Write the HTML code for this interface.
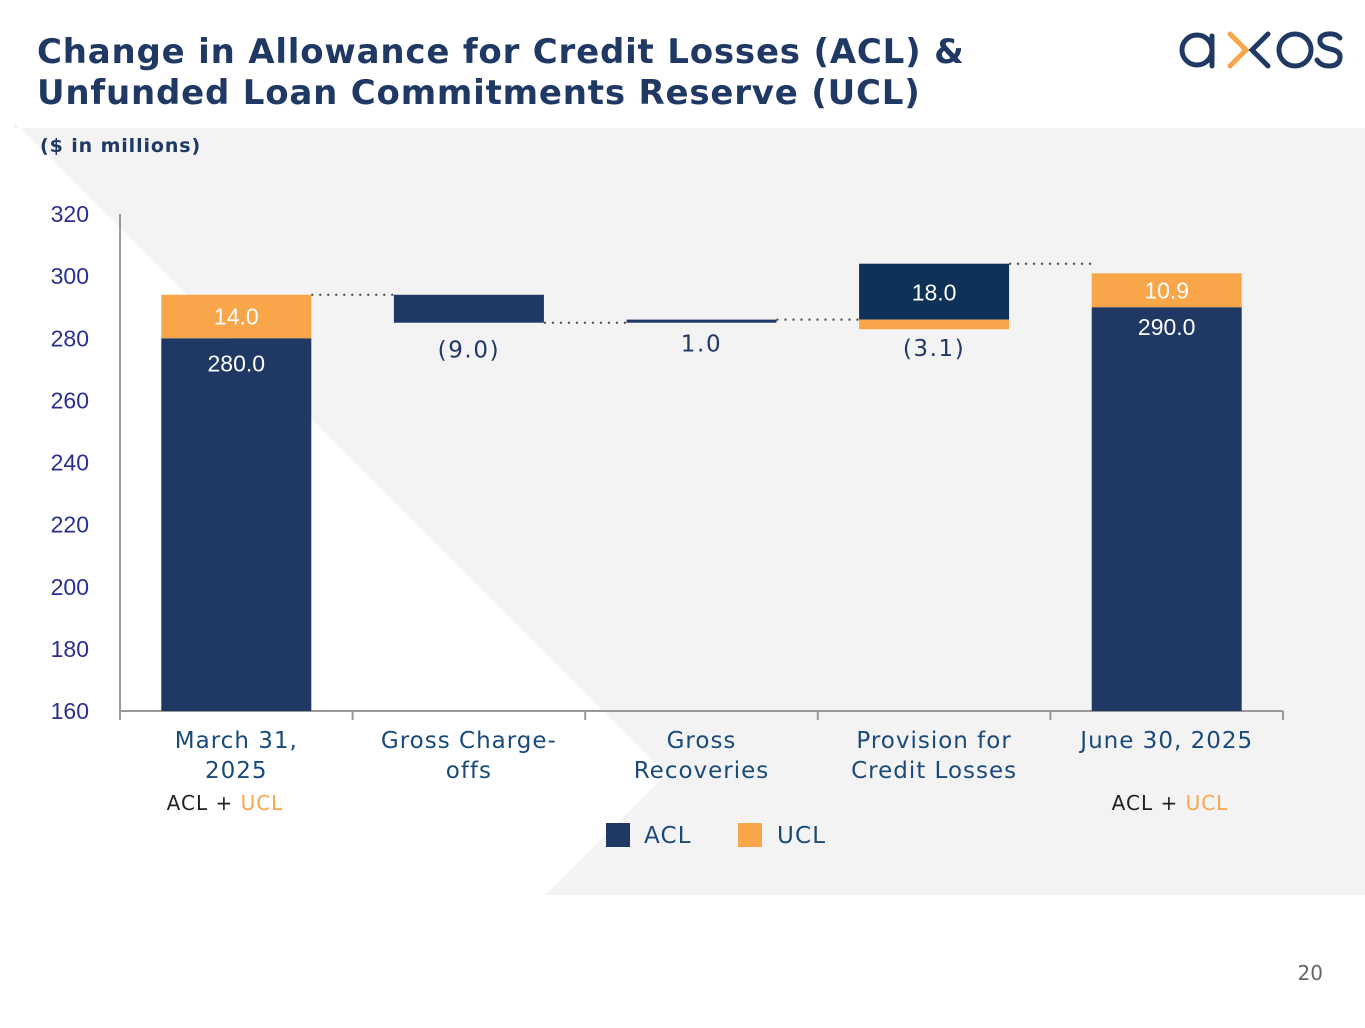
<!DOCTYPE html>
<html><head><meta charset="utf-8"><style>
body{margin:0;width:1365px;height:1024px;background:#fff;overflow:hidden;font-family:"DejaVu Sans",sans-serif}
</style></head><body>
<svg width="1365" height="1024" xmlns="http://www.w3.org/2000/svg">
<polygon points="14,128 1365,128 1365,895 545,895 666,774 14,122" fill="#f3f3f3"/>
<text x="37" y="63" font-family="DejaVu Sans" font-weight="bold" font-size="34" letter-spacing="0.8" fill="#1f3864">Change in Allowance for Credit Losses (ACL) &amp;</text>
<text x="37" y="104" font-family="DejaVu Sans" font-weight="bold" font-size="34" letter-spacing="0.8" fill="#1f3864">Unfunded Loan Commitments Reserve (UCL)</text>
<g fill="none" stroke-width="5" stroke-linecap="round">
<circle cx="1197" cy="50" r="15" stroke="#1f3864"/><line x1="1212" y1="36" x2="1212" y2="66" stroke="#1f3864"/>
<polyline points="1230,34 1246,50 1230,66" stroke="#f9a54a"/><polyline points="1268,34 1252,50 1268,66" stroke="#1f3864"/>
<circle cx="1295" cy="50" r="16" stroke="#1f3864"/>
<path d="M1340,38 q-4,-5 -12,-4 q-9,1 -8,8 q1,5 10,7 q11,2 10,9 q-1,8 -11,8 q-8,0 -12,-6" stroke="#1f3864"/>
</g>
<text x="40" y="152" font-weight="bold" font-size="19" letter-spacing="0.9" fill="#1f3864">($ in millions)</text>
<g id="chart"></g>
<g>
<rect x="606" y="823" width="24" height="24" fill="#1f3864"/>
<text x="644" y="843" font-size="23" letter-spacing="1.2" fill="#1a4a7a">ACL</text>
<rect x="738" y="823" width="24" height="24" fill="#f9a54a"/>
<text x="777" y="843" font-size="23" letter-spacing="1.2" fill="#1a4a7a">UCL</text>
</g>
<text x="1323" y="980" text-anchor="end" font-size="20" fill="#666">20</text>
</svg>
<script>
const categories=[["March 31,","2025"],["Gross Charge-","offs"],["Gross","Recoveries"],["Provision for","Credit Losses"],["June 30, 2025"]];
const startACL=280.0, startUCL=14.0;
const chargeOffs=-9.0;
const recoveries=1.0;
const provisionACL=18.0, provisionUCL=-3.1;
const endACL=290.0, endUCL=10.9;
const yTicks=[160,180,200,220,240,260,280,300,320];
const NS="http://www.w3.org/2000/svg";
const g=document.getElementById('chart');
const x0=120,x1=1283,yTop=214,yBot=711,yMin=160,yMax=320;
const y=v=>yBot-(v-yMin)/(yMax-yMin)*(yBot-yTop);
const bw=(x1-x0)/categories.length;
const cx=i=>x0+bw*(i+0.5);
const barW=150;
function el(t,a,txt){const e=document.createElementNS(NS,t);for(const k in a)e.setAttribute(k,a[k]);if(txt!=null)e.textContent=txt;g.appendChild(e);return e;}
function bar(i,lo,hi,fill,name){const e=el('rect',{x:cx(i)-barW/2,y:y(Math.max(lo,hi)),width:barW,height:Math.abs(y(lo)-y(hi)),fill:fill});

return e;}
function label(x,yy,t,fill,size,fam,name,ls){const e=el('text',{x:x,y:yy,'text-anchor':'middle','font-size':size,'font-family':fam,fill:fill,'letter-spacing':ls||0},t);

return e;}
function conn(i,j,v,name){const e=el('line',{x1:cx(i)+barW/2,x2:cx(j)-barW/2,y1:y(v),y2:y(v),stroke:'#444','stroke-width':2,'stroke-dasharray':'2 6'});

}
let a=el('line',{x1:x0,x2:x0,y1:yTop,y2:yBot,stroke:'#999','stroke-width':2});


a=el('line',{x1:x0,x2:x1,y1:yBot,y2:yBot,stroke:'#999','stroke-width':2});


for(let i=0;i<=categories.length;i++){const t=el('line',{x1:x0+bw*i,x2:x0+bw*i,y1:yBot,y2:yBot+9,stroke:'#999','stroke-width':2});

}
yTicks.forEach(v=>{const t=el('text',{x:89,y:y(v)+8,'text-anchor':'end','font-size':23,'font-family':'Liberation Sans',fill:'#2b2f8f'},v);

});
categories.forEach((c,i)=>c.forEach((s,k)=>label(cx(i),748+k*30,s,'#1a4a7a',23,'DejaVu Sans','x-category-label',1.0)));
const L0=startACL+startUCL, L1=L0+chargeOffs, L2=L1+recoveries, L3=L2+provisionACL;
bar(0,yMin,startACL,'#203864','bar-march-acl');bar(0,startACL,L0,'#f9a54a','bar-march-ucl');
label(cx(0),y(startACL)+33,startACL.toFixed(1),'#fff',23,'Liberation Sans','value-march-acl');
label(cx(0),y(L0)+(y(startACL)-y(L0))/2+8,startUCL.toFixed(1),'#fff',23,'Liberation Sans','value-march-ucl');
bar(1,L0,L1,'#203864','bar-charge-offs');
label(cx(1),y(L1)+35,'('+Math.abs(chargeOffs).toFixed(1)+')','#1f3864',23,'DejaVu Sans','value-charge-offs',1.6);
bar(2,L1,L2,'#203864','bar-recoveries');
label(cx(2),y(L2)+32,recoveries.toFixed(1),'#1f3864',23,'DejaVu Sans','value-recoveries',1.6);
bar(3,L2,L3,'#0e3158','bar-provision-acl');bar(3,L2,L2+provisionUCL,'#f9a54a','bar-provision-ucl');
label(cx(3),(y(L2)+y(L3))/2+9,provisionACL.toFixed(1),'#fff',23,'Liberation Sans','value-provision-acl');
label(cx(3),y(L2+provisionUCL)+27,'('+Math.abs(provisionUCL).toFixed(1)+')','#1f3864',23,'DejaVu Sans','value-provision-ucl',1.6);
bar(4,yMin,endACL,'#203864','bar-june-acl');bar(4,endACL,endACL+endUCL,'#f9a54a','bar-june-ucl');
label(cx(4),y(endACL)+28,endACL.toFixed(1),'#fff',23,'Liberation Sans','value-june-acl');
label(cx(4),(y(endACL)+y(endACL+endUCL))/2+8,endUCL.toFixed(1),'#fff',23,'Liberation Sans','value-june-ucl');
conn(0,1,L0,'connector-1');conn(1,2,L1,'connector-2');conn(2,3,L2,'connector-3');conn(3,4,L3,'connector-4');
[[0,225],[4,1170]].forEach(([i,xx])=>{const t=el('text',{x:xx,y:810,'text-anchor':'middle','font-size':20,'font-family':'DejaVu Sans','letter-spacing':1.0,fill:'#222'});


t.innerHTML='ACL + <tspan fill="#f9a54a">UCL</tspan>';});
</script>
</body></html>
